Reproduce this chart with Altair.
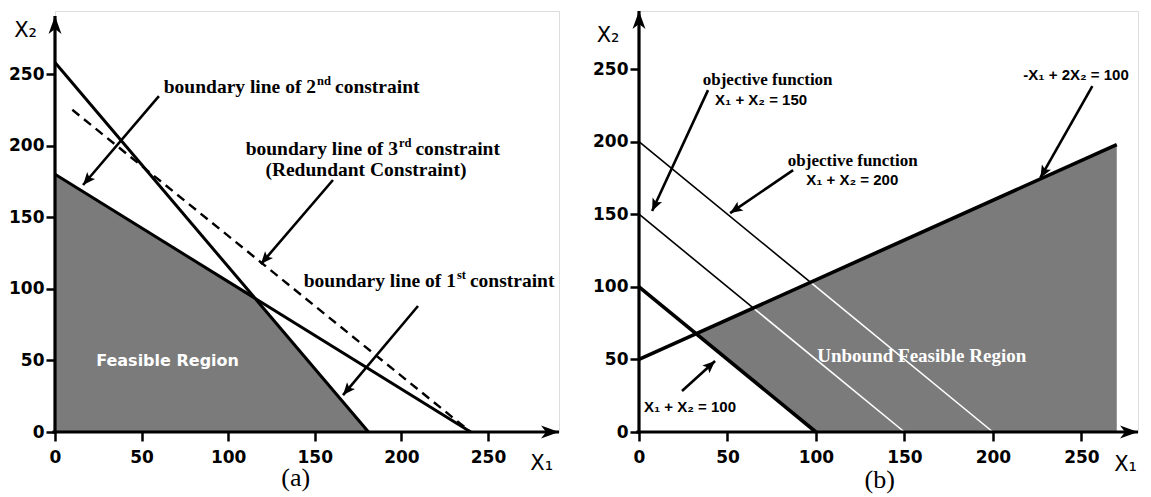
import math
import altair as alt
import pandas as pd

# ---------------- Panel (a) data ----------------
a_ticks = [0, 50, 100, 150, 200, 250]
a_xmax, a_ymax = 291, 294          # scale domains
a_xtip, a_ytip = 291, 290.5        # axis arrow tips

a_c1_x, a_c1_y = [0, 181], [258, 0]          # 1st constraint
a_c2_x, a_c2_y = [0, 240], [180, 0]          # 2nd constraint
a_c3_x, a_c3_y = [10, 240], [225, 0]         # 3rd (redundant, dashed)
a_reg_x = [0, 115.6, 182]
a_reg_y = [180, 93.3, 0]
a_reg_y2 = [0, 0, 0]

a_arr_x1 = [60.0, 160.5, 209.6]
a_arr_y1 = [234.6, 176.0, 88.0]
a_arr_x2 = [16.2, 118.9, 166.3]
a_arr_y2 = [172.5, 117.3, 25.8]

a_lab_pre = ["boundary line of 2", "boundary line of 3", "boundary line of 1"]
a_lab_sup = ["nd", "rd", "st"]
a_lab_post = ["constraint", "constraint", "constraint"]
a_lab_x = [150.7, 198.0, 231.5]
a_lab_y = [236.7, 193.4, 101.3]
a_sub_text = "(Redundant Constraint)"
a_sub_xy = (179.5, 178.8)
a_region_text = "Feasible Region"
a_region_xy = (65, 49.6)
a_panel_text = "(a)"
a_panel_xy = (139, -32)
a_x1_xy = (281, -22)
a_x2_xy = (-17, 280)

# ---------------- Panel (b) data ----------------
b_ticks = [0, 50, 100, 150, 200, 250]
b_xmax, b_ymax = 282, 290
b_xtip, b_ytip = 282, 290

b_c1_x, b_c1_y = [0, 100], [100, 0]              # X1 + X2 = 100
b_c2_x, b_c2_y = [0, 270], [50, 198]             # -X1 + 2X2 = 100
b_o150_bx, b_o150_by = [0, 64.5], [150, 85.5]    # objective 150 (outside region)
b_o150_wx, b_o150_wy = [64.5, 150], [85.5, 0]    # objective 150 (inside region)
b_o200_bx, b_o200_by = [0, 97], [200, 103]
b_o200_wx, b_o200_wy = [97, 200], [103, 0]
b_reg_x = [32.3, 100, 270]
b_reg_y = [67.7, 104.8, 198]
b_reg_y2 = [67.7, 0, 0]

b_arr_x1 = [39.0, 87.1, 256.2, 24.3]
b_arr_y1 = [235.5, 180.4, 238.3, 28.2]
b_arr_x2 = [7.4, 51.5, 226.8, 43.0]
b_arr_y2 = [152.2, 150.8, 175.0, 48.9]

b_serif_text = ["objective function", "objective function"]
b_serif_x = [72.7, 120.8]
b_serif_y = [242.4, 186.6]
b_eq_text = ["X\u2081 + X\u2082 = 150", "X\u2081 + X\u2082 = 200",
             "-X\u2081 + 2X\u2082 = 100", "X\u2081 + X\u2082 = 100"]
b_eq_x = [69.0, 120.5, 247.0, 28.8]
b_eq_y = [228.6, 173.5, 245.9, 17.2]
b_region_text = "Unbound Feasible Region"
b_region_xy = (159.8, 52.3)
b_panel_text = "(b)"
b_panel_xy = (136, -33)
b_x1_xy = (275, -23)
b_x2_xy = (-17.5, 273)

W_A, W_B, H = 504, 499, 421
GRAY = "#7b7b7b"
SERIF = "Liberation Serif"
SANS = "DejaVu Sans"
ARSANS = "Liberation Sans"

HEAD = "M0,0L-1,-0.42L-0.78,0L-1,0.42Z"      # tip at origin, pointing right
AXHEAD = "M0,0L-1,-0.36L-0.72,0L-1,0.36Z"


def make_panel(xmax, ymax, width, ticks):
    xs = alt.Scale(domain=[0, xmax], nice=False, zero=False)
    ys = alt.Scale(domain=[0, ymax], nice=False, zero=False)
    xa = alt.Axis(values=ticks, title=None, domain=False, grid=False, labelFlush=False,
                  tickSize=9, tickWidth=2.5, tickColor="black", labelPadding=8,
                  labelFont=SANS, labelFontWeight="bold", labelFontSize=17, labelColor="black")
    ya = alt.Axis(values=ticks, title=None, domain=False, grid=False, labelFlush=False,
                  tickSize=9, tickWidth=2.5, tickColor="black", labelPadding=2,
                  labelFont=SANS, labelFontWeight="bold", labelFontSize=17, labelColor="black")

    def X(f):
        return alt.X(f, type="quantitative", scale=xs, axis=xa)

    def Y(f):
        return alt.Y(f, type="quantitative", scale=ys, axis=ya)

    sx = width / xmax
    sy = H / ymax
    return X, Y, sx, sy


def seg(X, Y, xs, ys, color="black", width=3, dash=None):
    df = pd.DataFrame({"x": xs, "y": ys, "o": list(range(len(xs)))})
    kw = dict(color=color, strokeWidth=width, clip=False)
    if dash:
        kw["strokeDash"] = dash
    return alt.Chart(df).mark_line(**kw).encode(x=X("x"), y=Y("y"), order="o:Q")


def arrows(X, Y, sx, sy, x1, y1, x2, y2, size=620):
    ang = []
    for a, b, c, d in zip(x1, y1, x2, y2):
        dxp = (c - a) * sx
        dyp = -(d - b) * sy
        ang.append(math.degrees(math.atan2(dyp, dxp)) % 360)
    df = pd.DataFrame({"x": x1, "y": y1, "x2": x2, "y2": y2, "ang": ang})
    shaft = alt.Chart(df).mark_rule(color="black", strokeWidth=2.6).encode(
        x=X("x"), y=Y("y"), x2="x2", y2="y2")
    head = alt.Chart(df).mark_point(shape=HEAD, filled=True, size=size, opacity=1,
                                    color="black", strokeWidth=0).encode(
        x=X("x2"), y=Y("y2"), angle=alt.Angle("ang:Q", scale=None))
    return [shaft, head]


def axes_layers(X, Y, xtip, ytip):
    dfr = pd.DataFrame({"x": [-1.5, 0], "y": [0, -1], "x2": [xtip, 0], "y2": [0, ytip]})
    rules = alt.Chart(dfr).mark_rule(color="black", strokeWidth=3.2).encode(
        x=X("x"), y=Y("y"), x2="x2", y2="y2")
    dfh = pd.DataFrame({"x": [xtip, 0], "y": [0, ytip], "ang": [0, 270]})
    heads = alt.Chart(dfh).mark_point(shape=AXHEAD, filled=True, size=1296, opacity=1,
                                      color="black", strokeWidth=0).encode(
        x=X("x"), y=Y("y"), angle=alt.Angle("ang:Q", scale=None))
    return [rules, heads]


def text(X, Y, xs, ys, texts, **kw):
    df = pd.DataFrame({"x": xs, "y": ys, "t": texts})
    return alt.Chart(df).mark_text(**kw).encode(x=X("x"), y=Y("y"), text="t:N")


def axis_name(X, Y, xy, sub):
    return text(X, Y, [xy[0]], [xy[1]], ["X" + sub], font=SANS, fontSize=21,
                color="black", align="center", baseline="middle")


# ---------------- build panel (a) ----------------
XA, YA, sxa, sya = make_panel(a_xmax, a_ymax, W_A, a_ticks)
a_layers = []
a_reg = pd.DataFrame({"x": a_reg_x, "y": a_reg_y, "y2": a_reg_y2})
a_layers.append(alt.Chart(a_reg).mark_area(color=GRAY, opacity=1).encode(
    x=XA("x"), y=YA("y"), y2="y2"))
a_layers.append(seg(XA, YA, a_c3_x, a_c3_y, width=2.4, dash=[9, 6]))
a_layers.append(seg(XA, YA, a_c1_x, a_c1_y, width=3))
a_layers.append(seg(XA, YA, a_c2_x, a_c2_y, width=3))
a_layers += arrows(XA, YA, sxa, sya, a_arr_x1, a_arr_y1, a_arr_x2, a_arr_y2)
FS = 19.5
serif_kw = dict(font=SERIF, fontWeight="bold", color="black", baseline="alphabetic")
a_layers.append(text(XA, YA, a_lab_x, a_lab_y, a_lab_pre, align="right", fontSize=FS, **serif_kw))
gaps = [19, 17.5, 14]
for i in range(3):
    a_layers.append(text(XA, YA, [a_lab_x[i]], [a_lab_y[i]], [a_lab_sup[i]], align="left",
                         fontSize=12.5, dx=1, dy=-8, **serif_kw))
    a_layers.append(text(XA, YA, [a_lab_x[i]], [a_lab_y[i]], [a_lab_post[i]], align="left",
                         fontSize=FS, dx=gaps[i], **serif_kw))
a_layers.append(text(XA, YA, [a_sub_xy[0]], [a_sub_xy[1]], [a_sub_text], align="center",
                     fontSize=FS, **serif_kw))
a_layers.append(text(XA, YA, [a_region_xy[0]], [a_region_xy[1]], [a_region_text],
                     font=SANS, fontWeight="bold", fontSize=16, color="white",
                     align="center", baseline="middle"))
a_layers.append(text(XA, YA, [a_panel_xy[0]], [a_panel_xy[1]], [a_panel_text],
                     font=SERIF, fontSize=26, color="black", align="center", baseline="middle"))
a_layers.append(axis_name(XA, YA, a_x1_xy, "\u2081"))
a_layers.append(axis_name(XA, YA, a_x2_xy, "\u2082"))
a_layers += axes_layers(XA, YA, a_xtip, a_ytip)
panel_a = alt.layer(*a_layers).properties(width=W_A, height=H)

# ---------------- build panel (b) ----------------
XB, YB, sxb, syb = make_panel(b_xmax, b_ymax, W_B, b_ticks)
b_layers = []
b_reg = pd.DataFrame({"x": b_reg_x, "y": b_reg_y, "y2": b_reg_y2})
b_layers.append(alt.Chart(b_reg).mark_area(color=GRAY, opacity=1).encode(
    x=XB("x"), y=YB("y"), y2="y2"))
b_layers.append(seg(XB, YB, b_o150_bx, b_o150_by, width=1.6))
b_layers.append(seg(XB, YB, b_o150_wx, b_o150_wy, color="white", width=1.6))
b_layers.append(seg(XB, YB, b_o200_bx, b_o200_by, width=1.6))
b_layers.append(seg(XB, YB, b_o200_wx, b_o200_wy, color="white", width=1.6))
b_layers.append(seg(XB, YB, b_c1_x, b_c1_y, width=3.6))
b_layers.append(seg(XB, YB, b_c2_x, b_c2_y, width=3.6))
b_layers += arrows(XB, YB, sxb, syb, b_arr_x1, b_arr_y1, b_arr_x2, b_arr_y2)
b_layers.append(text(XB, YB, b_serif_x, b_serif_y, b_serif_text, font=SERIF, fontWeight="bold",
                     fontSize=17, color="black", align="center", baseline="middle"))
b_layers.append(text(XB, YB, b_eq_x, b_eq_y, b_eq_text, font=ARSANS, fontWeight="bold",
                     fontSize=15, color="black", align="center", baseline="middle"))
b_layers.append(text(XB, YB, [b_region_xy[0]], [b_region_xy[1]], [b_region_text],
                     font=SERIF, fontWeight="bold", fontSize=19, color="white",
                     align="center", baseline="middle"))
b_layers.append(text(XB, YB, [b_panel_xy[0]], [b_panel_xy[1]], [b_panel_text],
                     font=SERIF, fontSize=26, color="black", align="center", baseline="middle"))
b_layers.append(axis_name(XB, YB, b_x1_xy, "\u2081"))
b_layers.append(axis_name(XB, YB, b_x2_xy, "\u2082"))
b_layers += axes_layers(XB, YB, b_xtip, b_ytip)
panel_b = alt.layer(*b_layers).properties(width=W_B, height=H)

chart = alt.hconcat(panel_a, panel_b, spacing=80, bounds="flush").properties(
    padding=0
).configure_view(stroke=None).configure(background="white")

chart.save("out.html", embed_options={"renderer": "svg", "actions": False})
